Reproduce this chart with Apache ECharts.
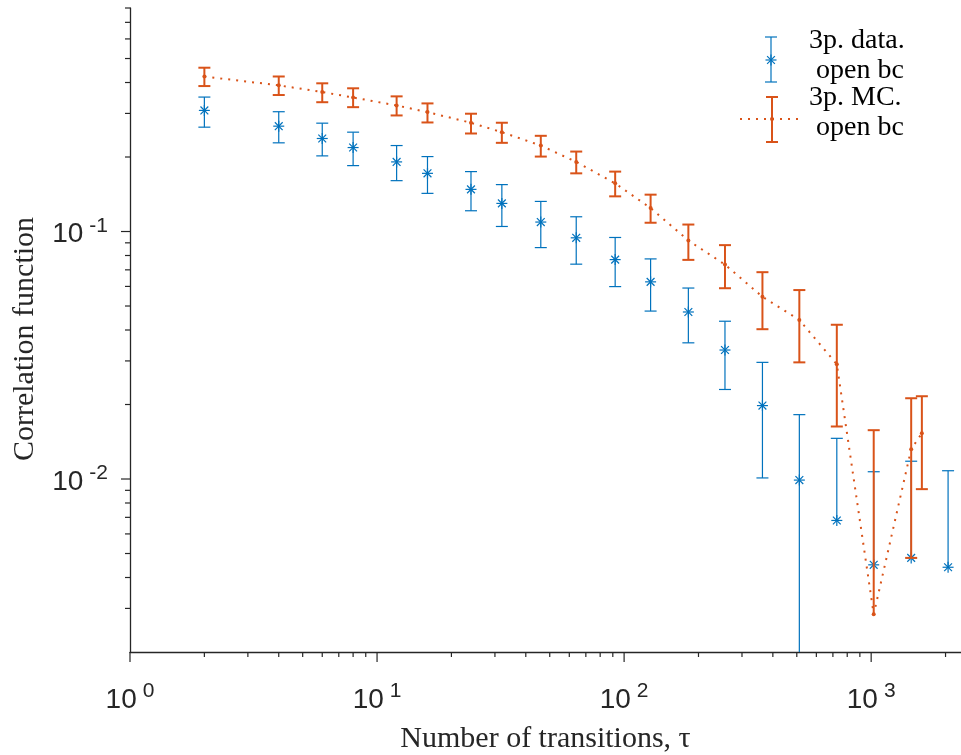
<!DOCTYPE html>
<html><head><meta charset="utf-8">
<script src="https://cdn.jsdelivr.net/npm/echarts@6/dist/echarts.min.js"></script>
<style>html,body{margin:0;padding:0;background:#fff}#c{width:961px;height:755px}</style>
</head><body><div id="c"></div><script>
// ---- data ----
const dataTau = [2,4,6,8,12,16,24,32,46,64,92,128,182,256,363,512,726,1024,1452,2048];
const dataVal = [0.3085,0.2665,0.2376,0.2184,0.1911,0.1718,0.148,0.1299,0.1092,0.0943,0.077,0.0626,0.0473,0.0332,0.0198,0.0099,0.0068,0.0045,0.0048,0.0044];
const dataLo  = [0.264,0.2282,0.2021,0.1846,0.1605,0.1426,0.1213,0.1048,0.0861,0.0738,0.0599,0.0477,0.0355,0.023,0.0101,0.0016,null,null,null,null];
const dataHi  = [0.3493,0.3048,0.274,0.252,0.2225,0.2008,0.1746,0.1547,0.1323,0.1147,0.0946,0.0775,0.0591,0.0434,0.0296,0.0182,0.0146,0.0107,0.0118,0.0108];

const mcTau = [2,4,6,8,12,16,24,32,46,64,92,128,182,256,363,512,726,1024,1452,1604];
const mcVal = [0.423,0.3896,0.366,0.348,0.323,0.3037,0.275,0.252,0.2225,0.1911,0.1565,0.1244,0.092,0.0735,0.0545,0.0439,0.0291,0.00284,0.0132,0.0153];
const mcLo  = [0.387,0.356,0.333,0.318,0.2944,0.2758,0.2489,0.2282,0.2008,0.1718,0.1387,0.1085,0.0768,0.059,0.0403,0.0296,0.0163,null,0.0048,0.0091];
const mcHi  = [0.459,0.423,0.397,0.379,0.3516,0.3293,0.2992,0.2751,0.2436,0.2104,0.1746,0.1409,0.1067,0.0881,0.0685,0.058,0.042,0.01575,0.0212,0.0216];

const xMajorTicks = [1,10,100,1000];
const xMinorTicks = [2,3,4,5,6,7,8,9,20,30,40,50,60,70,80,90,200,300,400,500,600,700,800,900,2000];
const yMajorTicks = [0.01,0.1];
const yMinorTicks = [0.003,0.004,0.005,0.006,0.007,0.008,0.009,0.02,0.03,0.04,0.05,0.06,0.07,0.08,0.09,0.2,0.3,0.4,0.5,0.6,0.7,0.8];

const xMin = 1, xMax = 2310, yMin = 0.002, yMax = 0.8;
const legendData = ['3p. data.\n open bc', '3p. MC.\n open bc'];
const xTitle = 'Number of transitions, \u03c4';
const yTitle = 'Correlation function';

const BLUE = '#0072BD', ORANGE = '#D95319', AX = '#262626';

function powLabel(v){
  const l = Math.log10(v), e = Math.round(l);
  if (Math.abs(l - e) > 1e-6) return '';
  return '{b|10}{s|' + e + '}';
}
const labelRich = {
  b: {fontSize: 28, lineHeight: 28, fontFamily: 'Liberation Sans', color: AX, verticalAlign: 'bottom'},
  s: {fontSize: 21, lineHeight: 21, fontFamily: 'Liberation Sans', color: AX, verticalAlign: 'bottom', padding: [0,0,12,6]}
};

function errSeries(xs, vals, los, his, color, lw, cap, star, z){
  return {
    type: 'custom', coordinateSystem: 'cartesian2d', z: z, silent: true,
    data: xs.map((x,i)=>[x, vals[i]]),
    encode: {x: 0, y: 1},
    renderItem: function(params, api){
      const i = params.dataIndex;
      const x = xs[i];
      const pc = api.coord([x, vals[i]]);
      const top = api.coord([x, Math.min(his[i], yMax)]);
      const lo = los[i];
      const bot = lo != null ? api.coord([x, Math.max(lo, yMin)]) : pc;
      const st = {stroke: color, lineWidth: lw};
      const ch = [];
      ch.push({type:'line', shape:{x1:top[0],y1:top[1],x2:bot[0],y2:bot[1]}, style: st});
      ch.push({type:'line', shape:{x1:top[0]-cap,y1:top[1],x2:top[0]+cap,y2:top[1]}, style: st});
      if (lo != null && lo >= yMin)
        ch.push({type:'line', shape:{x1:bot[0]-cap,y1:bot[1],x2:bot[0]+cap,y2:bot[1]}, style: st});
      if (star){
        const s = {stroke: color, lineWidth: 1.2};
        const r = 5.5, d = 3.9;
        ch.push({type:'line', shape:{x1:pc[0]-r,y1:pc[1],x2:pc[0]+r,y2:pc[1]}, style:s});
        ch.push({type:'line', shape:{x1:pc[0],y1:pc[1]-r,x2:pc[0],y2:pc[1]+r}, style:s});
        ch.push({type:'line', shape:{x1:pc[0]-d,y1:pc[1]-d,x2:pc[0]+d,y2:pc[1]+d}, style:s});
        ch.push({type:'line', shape:{x1:pc[0]-d,y1:pc[1]+d,x2:pc[0]+d,y2:pc[1]-d}, style:s});
      }
      return {type:'group', children: ch};
    }
  };
}

function tickSeries(vals, isX, len){
  return {
    type: 'custom', coordinateSystem: 'cartesian2d', silent: true, z: 5, clip: false,
    data: vals.map(v => isX ? [v, yMin] : [xMin, v]),
    encode: {x: 0, y: 1},
    renderItem: function(params, api){
      const v = vals[params.dataIndex];
      if (isX){
        const c = api.coord([v, yMin]);
        return {type:'line', shape:{x1:c[0],y1:c[1],x2:c[0],y2:c[1]+len}, style:{stroke:AX, lineWidth:1.2}};
      } else {
        const c = api.coord([xMin, v]);
        return {type:'line', shape:{x1:c[0],y1:c[1],x2:c[0]-len,y2:c[1]}, style:{stroke:AX, lineWidth:1.2}};
      }
    }
  };
}

const chart = echarts.init(document.getElementById('c'), null, {renderer: 'canvas'});
const serif = 'Liberation Serif';
chart.setOption({
  animation: false,
  backgroundColor: '#fff',
  grid: {left: 130, right: 0, top: 8, bottom: 103, containLabel: false, outerBoundsMode: 'none'},
  xAxis: {
    type: 'log', logBase: 10, min: xMin, max: xMax,
    axisLine: {show: true, lineStyle: {color: AX, width: 1.3}},
    axisTick: {show: false}, splitLine: {show: false}, minorTick: {show: false},
    axisLabel: {formatter: powLabel, rich: labelRich, margin: 34, showMinLabel: true, showMaxLabel: true},
    name: xTitle, nameLocation: 'middle', nameGap: 72,
    nameTextStyle: {fontFamily: serif, fontSize: 30, color: AX}
  },
  yAxis: {
    type: 'log', logBase: 10, min: yMin, max: yMax,
    axisLine: {show: true, lineStyle: {color: AX, width: 1.3}},
    axisTick: {show: false}, splitLine: {show: false}, minorTick: {show: false},
    axisLabel: {formatter: powLabel, rich: labelRich, margin: 22, padding: [6,0,0,0]},
    name: yTitle, nameLocation: 'middle', nameGap: 90, nameRotate: 90,
    nameTextStyle: {fontFamily: serif, fontSize: 30, color: AX, padding: [0, 18, 0, 0]}
  },
  series: [
    tickSeries(xMajorTicks, true, 10),
    tickSeries(xMinorTicks, true, 5),
    tickSeries(yMajorTicks, false, 9),
    tickSeries(yMinorTicks, false, 5),
    errSeries(dataTau, dataVal, dataLo, dataHi, BLUE, 1.2, 6, true, 2),
    {
      type: 'line', name: legendData[1], z: 3, silent: true,
      data: mcTau.map((x,i)=>[x, mcVal[i]]),
      symbol: 'circle', symbolSize: 4, showSymbol: true,
      itemStyle: {color: ORANGE, borderWidth: 0},
      lineStyle: {color: ORANGE, width: 2, type: [2, 6]}
    },
    errSeries(mcTau, mcVal, mcLo, mcHi, ORANGE, 2, 6, false, 4)
  ],
  graphic: [
    {type:'line', shape:{x1:771,y1:37,x2:771,y2:82}, style:{stroke:BLUE,lineWidth:1.2}},
    {type:'line', shape:{x1:765,y1:37,x2:777,y2:37}, style:{stroke:BLUE,lineWidth:1.2}},
    {type:'line', shape:{x1:765,y1:82,x2:777,y2:82}, style:{stroke:BLUE,lineWidth:1.2}},
    {type:'line', shape:{x1:765.5,y1:60,x2:776.5,y2:60}, style:{stroke:BLUE,lineWidth:1.2}},
    {type:'line', shape:{x1:771,y1:54.5,x2:771,y2:65.5}, style:{stroke:BLUE,lineWidth:1.2}},
    {type:'line', shape:{x1:767.1,y1:56.1,x2:774.9,y2:63.9}, style:{stroke:BLUE,lineWidth:1.2}},
    {type:'line', shape:{x1:767.1,y1:63.9,x2:774.9,y2:56.1}, style:{stroke:BLUE,lineWidth:1.2}},
    {type:'text', x:809, y:26, style:{text: legendData[0], fontFamily: serif, fontSize: 28, lineHeight: 30, fill:'#000', verticalAlign:'top', align:'left'}},
    {type:'line', shape:{x1:740,y1:119,x2:802,y2:119}, style:{stroke:ORANGE,lineWidth:2,lineDash:[2,6]}},
    {type:'line', shape:{x1:772,y1:97,x2:772,y2:142}, style:{stroke:ORANGE,lineWidth:2}},
    {type:'line', shape:{x1:766,y1:97,x2:778,y2:97}, style:{stroke:ORANGE,lineWidth:2}},
    {type:'line', shape:{x1:766,y1:142,x2:778,y2:142}, style:{stroke:ORANGE,lineWidth:2}},
    {type:'circle', shape:{cx:772,cy:119,r:2}, style:{fill:ORANGE}},
    {type:'text', x:809, y:83, style:{text: legendData[1], fontFamily: serif, fontSize: 28, lineHeight: 30, fill:'#000', verticalAlign:'top', align:'left'}}
  ]
});
</script></body></html>
